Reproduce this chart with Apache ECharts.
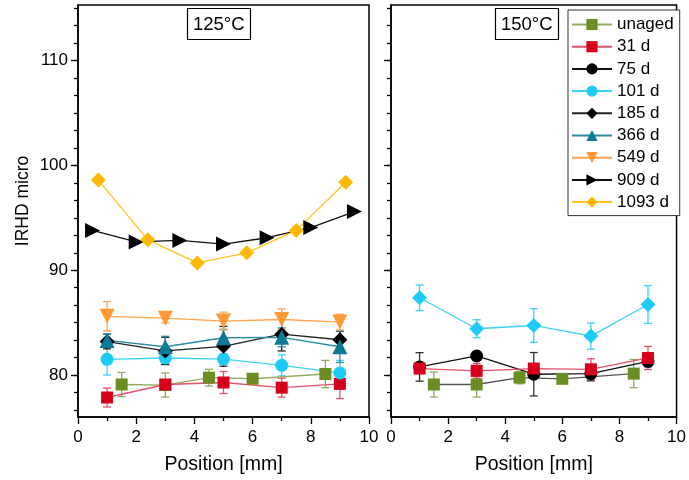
<!DOCTYPE html>
<html lang="en">
<head>
<meta charset="UTF-8">
<title>IRHD micro</title>
<script src="https://cdn.jsdelivr.net/npm/echarts@6/dist/echarts.min.js"></script>
<style>
  html, body { margin: 0; padding: 0; background: #fff; }
  #chart { width: 689px; height: 480px; }
</style>
</head>
<body>
<div id="chart"></div>
<script type="text/javascript">
  // positions [mm]
  var posMain = [1, 3, 5, 7, 9];
  var posUnaged = [1.5, 3, 4.5, 6, 8.5];
  var pos909 = [0.5, 2, 3.5, 5, 6.5, 8, 9.5];
  var pos1093 = [0.7, 2.4, 4.1, 5.8, 7.5, 9.2];

  // 125 °C
  var unaged125 = [79.1, 79.05, 79.75, 79.65, 80.1];
  var unaged125Err = [1.15, 1.15, 0.8, 0, 1.3];
  var d31_125 = [77.86, 79.1, 79.29, 78.8, 79.16];
  var d31_125Err = [0.9, 0.45, 1.05, 0.9, 1.4];
  var d101_125 = [81.5, 81.63, 81.53, 80.93, 80.2];
  var d101_125Err = [1.5, 0.55, 0.5, 1.0, 1.2];
  var d185_125 = [83.2, 82.3, 82.74, 83.9, 83.37];
  var d185_125Err = [0.7, 1.3, 1.9, 1.6, 0.8];
  var d366_125 = [83.3, 82.7, 83.56, 83.6, 82.7];
  var d366_125Err = [0.6, 1.0, 0.8, 0.9, 1.5];
  var d549_125 = [85.6, 85.43, 85.15, 85.3, 85.05];
  var d549_125Err = [1.4, 0.45, 0.85, 1.0, 0.75];
  var d909_125 = [93.8, 92.7, 92.84, 92.5, 93.1, 94.07, 95.6];
  var d1093_125 = [98.6, 92.9, 90.7, 91.66, 93.8, 98.4];

  // 150 °C
  var unaged150 = [79.1, 79.1, 79.76, 79.64, 80.14];
  var unaged150Err = [1.19, 1.19, 0.6, 0, 1.35];
  var d31_150 = [80.62, 80.4, 80.62, 80.55, 81.63];
  var d31_150Err = [0.2, 0.7, 0.3, 1.0, 1.1];
  var d75_150 = [80.78, 81.82, 80.08, 80.14, 81.3];
  var d75_150Err = [1.36, 0.3, 2.07, 0.7, 0.5];
  var d101_150 = [87.37, 84.42, 84.73, 83.72, 86.73];
  var d101_150Err = [1.22, 0.86, 1.6, 1.25, 1.8];

  var legendNames = ['unaged', '31 d', '75 d', '101 d', '185 d', '366 d', '549 d', '909 d', '1093 d'];
  var yLabels = [80, 90, 100, 110];
  var xLabels = [0, 2, 4, 6, 8, 10];

  var FONT = 'Liberation Sans, Arial, sans-serif';
  var Y_MIN = 76, Y_MAX = 115.3;

  // minor ticks on y: 5 minor ticks between labelled values
  var yMinor = [];
  for (var v = 80 - 10 / 6 * 2; v <= Y_MAX; v += 10 / 6) {
    if (v >= Y_MIN) yMinor.push(+v.toFixed(3));
  }

  function pts(xs, ys) {
    return xs.map(function (x, i) { return [x, ys[i]]; });
  }

  function lineSeries(name, xs, ys, grid, symbol, size, color, lineColor, rotate) {
    return {
      name: name,
      type: 'line',
      xAxisIndex: grid,
      yAxisIndex: grid * 2,
      data: pts(xs, ys),
      symbol: symbol,
      symbolSize: size,
      symbolRotate: rotate || 0,
      showAllSymbol: true,
      itemStyle: { color: color, opacity: 1 },
      lineStyle: { color: lineColor, width: 1.3 },
      emphasis: { disabled: true },
      z: 3
    };
  }

  // error bars as custom series
  function errSeries(name, xs, ys, es, grid, color) {
    var d = [];
    xs.forEach(function (x, i) {
      if (es[i] > 0) d.push([x, ys[i] - es[i], ys[i] + es[i]]);
    });
    return {
      name: name + ' err',
      type: 'custom',
      xAxisIndex: grid,
      yAxisIndex: grid * 2,
      data: d,
      z: 2,
      silent: true,
      renderItem: function (params, api) {
        var x = api.value(0);
        var top = api.coord([x, api.value(2)]);
        var bot = api.coord([x, api.value(1)]);
        var w = 4;
        var st = { stroke: color, lineWidth: 1.3 };
        return {
          type: 'group',
          children: [
            { type: 'line', shape: { x1: top[0], y1: top[1], x2: bot[0], y2: bot[1] }, style: st },
            { type: 'line', shape: { x1: top[0] - w, y1: top[1], x2: top[0] + w, y2: top[1] }, style: st },
            { type: 'line', shape: { x1: bot[0] - w, y1: bot[1], x2: bot[0] + w, y2: bot[1] }, style: st }
          ]
        };
      }
    };
  }

  function xAxisOf(grid) {
    return {
      type: 'value', gridIndex: grid, min: 0, max: 10, interval: 2,
      name: 'Position [mm]', nameLocation: 'middle', nameGap: 38,
      nameTextStyle: { fontSize: 19.5, color: '#000', fontFamily: FONT },
      axisLine: { lineStyle: { color: '#000', width: 1.5 } },
      axisTick: { show: true, inside: false, length: 7, lineStyle: { color: '#000', width: 1.3 }, customValues: xLabels },
      minorTick: { show: true, splitNumber: 2, length: 4, lineStyle: { color: '#000', width: 1.3 } },
      axisLabel: { fontSize: 17, color: '#000', fontFamily: FONT, margin: 12, customValues: xLabels },
      splitLine: { show: false }
    };
  }

  function yAxesOf(grid) {
    return [{
      type: 'value', gridIndex: grid, min: Y_MIN, max: Y_MAX, position: 'left',
      name: grid === 0 ? 'IRHD micro' : '', nameLocation: 'middle', nameGap: 46,
      nameTextStyle: { fontSize: 17.5, color: '#000', fontFamily: FONT, padding: [0, 0, 0, 20] },
      axisLine: { show: true, lineStyle: { color: '#000', width: 1.5 } },
      axisTick: { show: true, length: 7, lineStyle: { color: '#000', width: 1.3 }, customValues: yLabels },
      axisLabel: { show: grid === 0, fontSize: 17, color: '#000', fontFamily: FONT, margin: 10, customValues: yLabels },
      splitLine: { show: false }
    }, {
      type: 'value', gridIndex: grid, min: Y_MIN, max: Y_MAX, position: 'left', offset: 0,
      axisLine: { show: false, onZero: false },
      axisTick: { show: true, length: 4, lineStyle: { color: '#000', width: 1.3 }, customValues: yMinor },
      axisLabel: { show: false, customValues: yMinor },
      splitLine: { show: false }
    }];
  }

  var C = {
    unaged: '#6b8e23', unagedLine: '#93ab5e',
    d31: '#d6001c', d31Line: '#e3506a',
    d75: '#000000',
    d101: '#1ecbf7', d101Line: '#3fd2f7',
    d185: '#000000', d185Line: '#222222',
    d366: '#0a7a96', d366Line: '#2b8aa2',
    d549: '#ff9933', d549Line: '#ffa54f',
    d909: '#000000',
    d1093: '#ffb800', d1093Line: '#ffc31f'
  };

  var series = [
    // left panel (125 °C) first so legend takes its symbols
    errSeries('unaged', posUnaged, unaged125, unaged125Err, 0, C.unagedLine),
    lineSeries('unaged', posUnaged, unaged125, 0, 'rect', 12, C.unaged, C.unagedLine),
    errSeries('31 d', posMain, d31_125, d31_125Err, 0, C.d31Line),
    lineSeries('31 d', posMain, d31_125, 0, 'rect', 12, C.d31, C.d31Line),
    lineSeries('75 d', posMain, d75_150, 1, 'circle', 13, C.d75, '#111'),
    errSeries('101 d', posMain, d101_125, d101_125Err, 0, C.d101Line),
    lineSeries('101 d', posMain, d101_125, 0, 'circle', 13, C.d101, C.d101Line),
    errSeries('185 d', posMain, d185_125, d185_125Err, 0, '#222'),
    lineSeries('185 d', posMain, d185_125, 0, 'diamond', 15, C.d185, C.d185Line),
    errSeries('366 d', posMain, d366_125, d366_125Err, 0, C.d366Line),
    lineSeries('366 d', posMain, d366_125, 0, 'triangle', 15, C.d366, C.d366Line),
    errSeries('549 d', posMain, d549_125, d549_125Err, 0, C.d549Line),
    lineSeries('549 d', posMain, d549_125, 0, 'triangle', 15, C.d549, C.d549Line, 180),
    lineSeries('909 d', pos909, d909_125, 0, 'triangle', 15, C.d909, '#111', -90),
    lineSeries('1093 d', pos1093, d1093_125, 0, 'diamond', 15, C.d1093, C.d1093Line),

    // right panel (150 °C)
    errSeries('unaged 150', posUnaged, unaged150, unaged150Err, 1, C.unagedLine),
    lineSeries('unaged 150', posUnaged, unaged150, 1, 'rect', 12, C.unaged, '#555'),
    errSeries('31 d 150', posMain, d31_150, d31_150Err, 1, C.d31Line),
    lineSeries('31 d 150', posMain, d31_150, 1, 'rect', 12, C.d31, C.d31Line),
    errSeries('75 d 150', posMain, d75_150, d75_150Err, 1, '#333'),
    errSeries('101 d 150', posMain, d101_150, d101_150Err, 1, C.d101Line),
    lineSeries('101 d 150', posMain, d101_150, 1, 'diamond', 15, C.d101, C.d101Line)
  ];

  var myChart = echarts.init(document.getElementById('chart'), null, { renderer: 'canvas' });
  myChart.setOption({
    animation: false,
    backgroundColor: '#fff',
    textStyle: { fontFamily: FONT },
    title: [
      { text: '125°C', left: 187, top: 8, padding: [7, 6, 6, 6], borderColor: '#000', borderWidth: 1.2,
        textStyle: { fontSize: 18.5, fontWeight: 'normal', color: '#000', fontFamily: FONT } },
      { text: '150°C', left: 495, top: 8, padding: [7, 6, 6, 6], borderColor: '#000', borderWidth: 1.2,
        textStyle: { fontSize: 18.5, fontWeight: 'normal', color: '#000', fontFamily: FONT } }
    ],
    legend: {
      data: legendNames,
      orient: 'vertical',
      left: 568, top: 10,
      padding: [6, 6, 5, 3],
      itemWidth: 40, itemHeight: 14, itemGap: 5.2,
      borderColor: '#333', borderWidth: 1,
      backgroundColor: '#fff',
      selectedMode: false,
      textStyle: { fontSize: 17, color: '#000', fontFamily: FONT }
    },
    grid: [
      { left: 78, top: 5, width: 291, height: 413.5, show: true, borderColor: '#000', borderWidth: 1.5, backgroundColor: 'transparent' },
      { left: 391, top: 5, width: 291, height: 413.5, show: true, borderColor: '#000', borderWidth: 1.5, backgroundColor: 'transparent' }
    ],
    xAxis: [xAxisOf(0), xAxisOf(1)],
    yAxis: yAxesOf(0).concat(yAxesOf(1)),
    series: series
  });
</script>
</body>
</html>
